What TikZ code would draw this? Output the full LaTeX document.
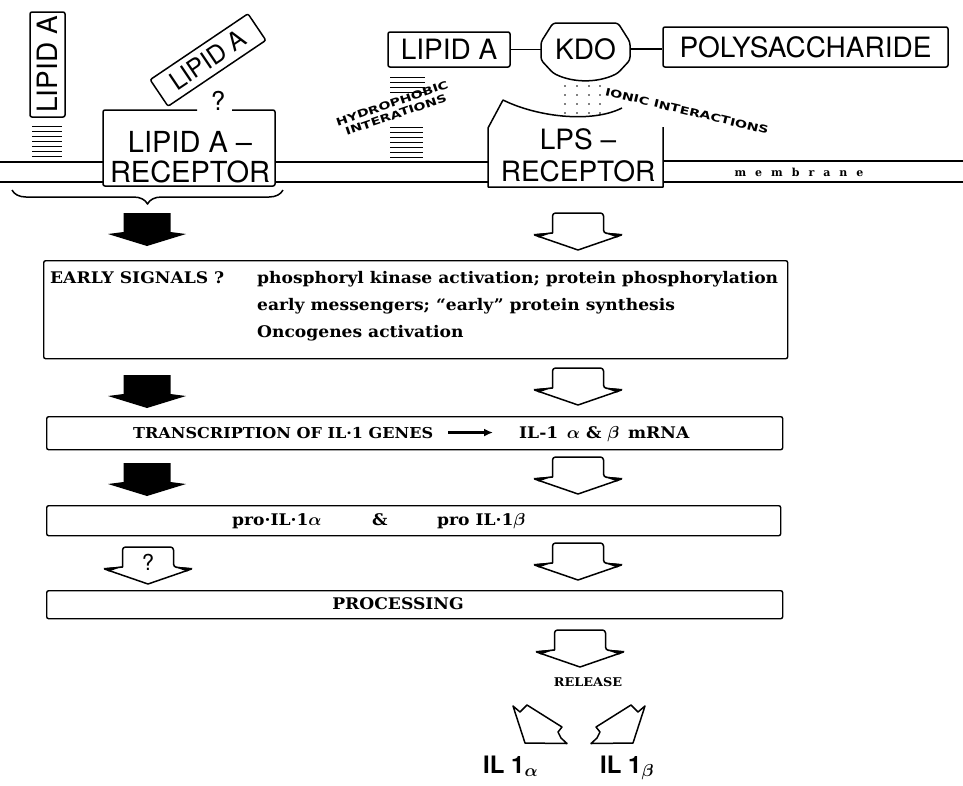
\documentclass[tikz,border=0pt]{standalone}
\usepackage{fontspec}
\setmainfont{DejaVu Serif}
\setsansfont{TeX Gyre Heros}
\newfontfamily\widefont[FakeStretch=1.35]{DejaVu Sans}
\newfontfamily\boxfont[FakeStretch=1.07]{DejaVu Serif}
\usetikzlibrary{arrows.meta,positioning,calc,decorations.pathreplacing}

\begin{document}
\begin{tikzpicture}[
  x=1pt, y=-1pt,
  flowbox/.style={draw=black, line width=1.4pt, rounded corners=2pt, anchor=north west, inner sep=0pt},
  boxtext/.style={font=\boxfont\bfseries\boldmath\fontsize{16}{18}\selectfont, inner sep=0pt, anchor=base west},
  molbox/.style={draw=black, line width=1.5pt, rounded corners=2pt, font=\sffamily\fontsize{28}{30}\selectfont, inner sep=0pt},
  rectext/.style={font=\sffamily\fontsize{29}{30}\selectfont, align=center, inner sep=0pt},
  tinytext/.style={font=\widefont\bfseries\fontsize{10.5}{12}\selectfont, align=center, inner sep=0pt},
  iltext/.style={font=\sffamily\bfseries\boldmath\fontsize{24}{26}\selectfont, inner sep=0pt, anchor=base west},
  wall/.style={line width=1.8pt},
  outline/.style={line width=1.5pt, line join=round},
  hatch/.style={line width=0.9pt},
  link/.style={line width=1.5pt},
  tarrow/.style={line width=2.6pt, -{Latex[length=9pt,width=8pt]}},
  solidarrow/.pic={\fill[black] (-23.5,0) -- (23.5,0) -- (23.5,19) -- (39,21) -- (0,33) -- (-39,21) -- (-23.5,19) -- cycle;},
  openarrow/.pic={
    \draw[line width=1.5pt, line join=round, fill=white] (0,37) -- (-43.5,22) -- (-25.5,20)
      {[rounded corners=3pt] -- (-25.5,0) -- (25.5,0) -- (25.5,20)} -- (43.5,22) -- cycle;
    \fill (-25.5,19.5) -- (-44.5,21) -- (-39,24.5) -- cycle;
    \fill (25.5,19.5) -- (44.5,21) -- (39,24.5) -- cycle;}
]
  \fill[white] (0,0) rectangle (963,785);
  \useasboundingbox (0,0) rectangle (963,785);

  % membrane
  \draw[wall] (0,162) -- (103,162) (0,182) -- (103,182)
    (275,162) -- (488,162) (275,182) -- (488,182)
    (663,161) -- (963,161) (663,182) -- (963,182);
  \node[font=\bfseries\fontsize{11}{12}\selectfont, inner sep=0pt] (membr) at (799,172) {\spaceskip=9pt m e m b r a n e};

  % free lipid A and its receptor
  \node[molbox, rotate=90, minimum width=105pt, minimum height=35pt] (lipidV) at (47.5,64.5) {LIPID A};
  \foreach \y in {126,131,...,158} \draw[hatch] (32,\y) -- (62,\y);
  \node[molbox, rotate=34, minimum width=118pt, minimum height=32pt, font=\sffamily\fontsize{25}{27}\selectfont] (lipidR) at (208,60) {LIPID A};
  \node[font=\sffamily\fontsize{26}{28}\selectfont, inner sep=0pt] (qmark) at (218,101) {?};
  \draw[outline, rounded corners=2pt] (197,110) -- (103,110) -- (103,186) -- (275,186) -- (275,110) -- (232,110);
  \node[rectext] (lipRec) at (190,157) {LIPID A –\\RECEPTOR};
  \draw[outline, decorate, decoration={brace, amplitude=14pt, mirror}] (12,190) -- (283,190);

  % LPS and its receptor
  \node[molbox, minimum width=122pt, minimum height=35pt] (lipidB) at (449,49.5) {LIPID A};
  \draw[outline, rounded corners=3pt] (541,42) -- (553,23) -- (618,23) -- (630,42) -- (630,60) -- (618,73)
    .. controls (598,83) and (573,83) .. (553,73) -- (541,60) -- cycle;
  \node[font=\sffamily\fontsize{28}{30}\selectfont, minimum width=89pt, inner sep=0pt] (kdo) at (585.5,49) {KDO};
  \node[molbox, minimum width=285pt, minimum height=40pt] (poly) at (805.5,47) {POLYSACCHARIDE};
  \draw[link] (lipidB.east) -- (lipidB.east -| kdo.west);
  \draw[link] (kdo.east) -- (kdo.east -| poly.west);

  \foreach \y in {77,82,87,92} \draw[hatch] (390,\y) -- (425,\y);
  \foreach \y in {127,132,...,157} \draw[hatch] (390,\y) -- (423,\y);
  \node[tinytext, rotate=19] (hydro) at (394,109) {HYDROPHOBIC\\INTERATIONS};

  \foreach \x in {565,577,589,600}
    \foreach \y in {86,95,104,113}
      \fill (\x,\y) circle (0.9pt);
  \draw[outline] (622,108) .. controls (590,124) and (535,116) .. (503,100) -- (488,128) -- (488,187) -- (663,187) -- (663,127);
  \node[rectext, font=\sffamily\fontsize{28}{32}\selectfont] (lpsRec) at (578,155) {LPS –\\RECEPTOR};
  \node[tinytext, rotate=-13.5] (ionic) at (687,111) {IONIC INTERACTIONS};

  % cascade
  \pic at (147,213) {solidarrow};
  \pic at (578,213) {openarrow};
  \node[flowbox, minimum width=744pt, minimum height=98pt] (early) at (43,260) {};
  \node[boxtext] (earlyA) at (50,283) {EARLY SIGNALS ?};
  \node[boxtext] (earlyB) at (257,283) {phosphoryl kinase activation; protein phosphorylation};
  \node[boxtext] (earlyC) at (257,310) {early messengers; “early” protein synthesis};
  \node[boxtext] (earlyD) at (257,337) {Oncogenes activation};

  \pic at (147,375) {solidarrow};
  \pic at (578,368) {openarrow};
  \node[flowbox, minimum width=736pt, minimum height=33pt] (trans) at (46,416) {};
  \node[boxtext, font=\boxfont\bfseries\fontsize{15}{18}\selectfont] (transL) at (133,438) {TRANSCRIPTION OF IL·1 GENES};
  \node[boxtext] (transR) at (519,438) {IL-1 \,$\alpha$ \& $\beta$\, mRNA};
  \draw[tarrow, shorten <=15pt, shorten >=26pt] (transL.east) -- (transL.east -| transR.west);

  \pic at (147,463) {solidarrow};
  \pic at (578,457) {openarrow};
  \node[flowbox, minimum width=734pt, minimum height=30pt] (pro) at (46,505) {};
  \node[boxtext] (proA) at (232,525) {pro·IL·1$\alpha$};
  \node[boxtext] (proAnd) at (372,525) {\&};
  \node[boxtext] (proB) at (437,525) {pro IL·1$\beta$};

  \pic at (148,547) {openarrow};
  \node[font=\sffamily\fontsize{22}{24}\selectfont, inner sep=0pt] (qproc) at (148,562) {?};
  \pic at (578,543) {openarrow};
  \node[flowbox, minimum width=736pt, minimum height=28pt] (proc) at (46,590) {};
  \node[boxtext, anchor=center] (procTxt) at (398,604) {PROCESSING};

  \pic at (580,630) {openarrow};
  \node[boxtext, anchor=center, font=\boxfont\bfseries\fontsize{12}{14}\selectfont] (release) at (588,682) {RELEASE};
  \foreach \s in {1,-1}
    \draw[outline, shift={(579,0)}, xscale=\s] (-66,706) -- (-59,712) -- (-52,705) -- (-17,727) -- (-21,732) -- (-18,738) -- (-12,743.5) -- (-54,743) -- cycle;
  \node[iltext] (ilA) at (483,773) {IL 1$_{\alpha}$};
  \node[iltext] (ilB) at (600,773) {IL 1$_{\beta}$};
\end{tikzpicture}
\end{document}
